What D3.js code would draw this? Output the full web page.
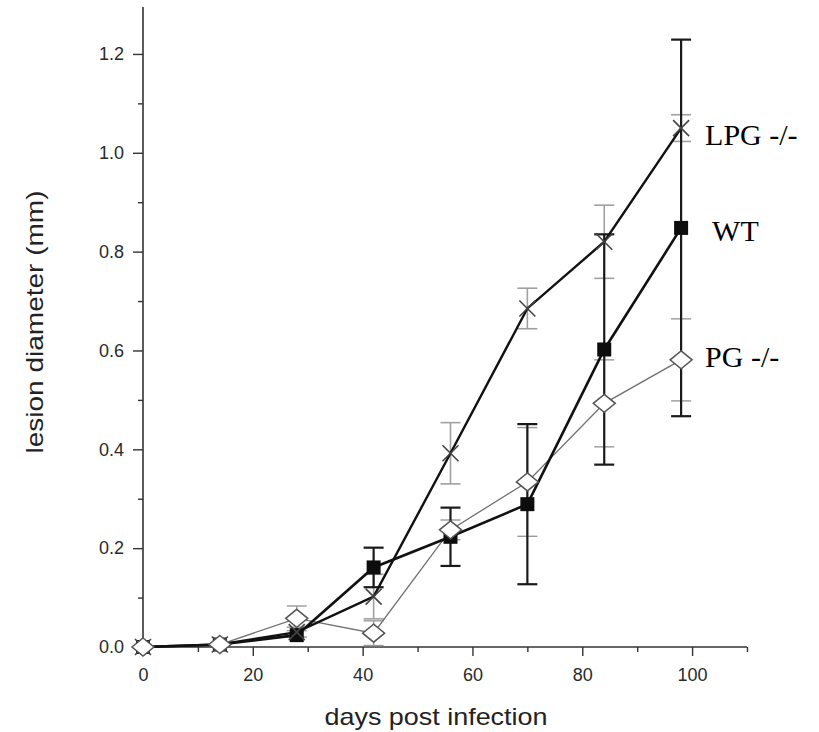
<!DOCTYPE html>
<html>
<head>
<meta charset="utf-8">
<script src="https://cdn.jsdelivr.net/npm/d3@7"></script>
<style>
  html, body { margin: 0; padding: 0; background: #fff; }
  svg { display: block; }
</style>
</head>
<body>
<svg id="chart" width="819" height="732"></svg>
<script>
// Days after infection at which lesions were measured
const days = [0, 14, 28, 42, 56, 70, 84, 98];

// Mean lesion diameter (mm) and error for each strain
const lpgMean = [0, 0.005, 0.03, 0.102, 0.392, 0.685, 0.82, 1.05];
const lpgErr  = [0, 0, 0.01, 0.045, 0.062, 0.041, 0.074, 0.027];

const wtMean = [0, 0.005, 0.024, 0.161, 0.223, 0.289, 0.602, 0.848];
const wtErr  = [0, 0, 0, 0.04, 0.059, 0.162, 0.233, 0.381];

const pgMean = [0, 0.005, 0.058, 0.028, 0.237, 0.334, 0.493, 0.581];
const pgErr  = [0, 0, 0.025, 0.025, 0.02, 0.11, 0.088, 0.083];

const seriesNames = ["LPG -/-", "WT", "PG -/-"];

const xTicks = [0, 20, 40, 60, 80, 100];
const xMinorTicks = [10, 30, 50, 70, 90, 110];
const yTicks = [0, 0.2, 0.4, 0.6, 0.8, 1.0, 1.2];
const yMinorTicks = [0.1, 0.3, 0.5, 0.7, 0.9, 1.1];

const svg = d3.select("#chart");

const x = d3.scaleLinear().domain([0, 110]).range([143, 747]);
const y = d3.scaleLinear().domain([0, 1.295]).range([647, 7]);

const axisColor = "#333";
const tickFont = "Arial, 'Liberation Sans', sans-serif";

// ---- Axes ----
const yAxis = svg.append("g").attr("transform", `translate(${x(0)},0)`)
  .call(d3.axisLeft(y).tickValues(yTicks).tickFormat(d3.format(".1f")).tickSize(10).tickPadding(9));
yAxis.select(".domain").attr("d", `M0,${y(0)}V${y(1.295)}`);
svg.append("g").attr("transform", `translate(${x(0)},0)`)
  .call(d3.axisLeft(y).tickValues(yMinorTicks).tickFormat("").tickSize(5))
  .select(".domain").remove();

const xAxis = svg.append("g").attr("transform", `translate(0,${y(0)})`)
  .call(d3.axisBottom(x).tickValues(xTicks).tickFormat(d3.format("d")).tickSize(9).tickPadding(12));
xAxis.select(".domain").attr("d", `M${x(0)},0H${x(110)}`);
svg.append("g").attr("transform", `translate(0,${y(0)})`)
  .call(d3.axisBottom(x).tickValues(xMinorTicks).tickFormat("").tickSize(5))
  .select(".domain").remove();

svg.selectAll(".domain").attr("stroke", axisColor).attr("stroke-width", 1.6);
svg.selectAll(".tick line").attr("stroke", axisColor).attr("stroke-width", 1.4);
svg.selectAll(".tick text")
  .attr("fill", "#2a2a2a")
  .style("font-family", tickFont)
  .style("font-size", "18px");

// Axis titles
svg.append("text")
  .attr("x", 436).attr("y", 725)
  .attr("text-anchor", "middle")
  .attr("textLength", 223).attr("lengthAdjust", "spacingAndGlyphs")
  .style("font-family", tickFont).style("font-size", "24px")
  .attr("fill", "#222")
  .text("days post infection");

svg.append("text")
  .attr("transform", "translate(43,322) rotate(-90)")
  .attr("text-anchor", "middle")
  .attr("textLength", 263).attr("lengthAdjust", "spacingAndGlyphs")
  .style("font-family", tickFont).style("font-size", "24px")
  .attr("fill", "#222")
  .text("lesion diameter (mm)");

// ---- Series ----
const toPoints = (means, errs) => days.map((d, i) => ({ day: d, v: means[i], e: errs[i] }));
const lpg = toPoints(lpgMean, lpgErr);
const wt = toPoints(wtMean, wtErr);
const pg = toPoints(pgMean, pgErr);

const line = d3.line().x(d => x(d.day)).y(d => y(d.v));

function errorBars(data, color, width, cap) {
  const g = svg.append("g").attr("stroke", color).attr("stroke-width", width).attr("fill", "none");
  data.filter(d => d.e > 0).forEach(d => {
    const cx = x(d.day), t = y(d.v + d.e), b = y(d.v - d.e);
    g.append("line").attr("x1", cx).attr("x2", cx).attr("y1", t).attr("y2", b);
    g.append("line").attr("x1", cx - cap).attr("x2", cx + cap).attr("y1", t).attr("y2", t);
    g.append("line").attr("x1", cx - cap).attr("x2", cx + cap).attr("y1", b).attr("y2", b);
  });
}

// error bars underneath
errorBars(pg, "#9a9a9a", 1.4, 10);
errorBars(lpg, "#a0a0a0", 1.6, 10);
errorBars(wt, "#1a1a1a", 2.2, 10);

// connecting lines
svg.append("path").datum(pg).attr("d", line)
  .attr("fill", "none").attr("stroke", "#707070").attr("stroke-width", 1.3);
svg.append("path").datum(wt).attr("d", line)
  .attr("fill", "none").attr("stroke", "#111").attr("stroke-width", 2.6);
svg.append("path").datum(lpg).attr("d", line)
  .attr("fill", "none").attr("stroke", "#111").attr("stroke-width", 2.4);

// WT: filled squares
svg.append("g").selectAll("rect").data(wt).join("rect")
  .attr("x", d => x(d.day) - 7).attr("y", d => y(d.v) - 7)
  .attr("width", 14).attr("height", 14)
  .attr("fill", "#0d0d0d");

// LPG -/-: crosses
svg.append("g").selectAll("path").data(lpg).join("path")
  .attr("d", d => {
    const cx = x(d.day), cy = y(d.v), r = 8;
    return `M${cx - r},${cy - r}L${cx + r},${cy + r}M${cx - r},${cy + r}L${cx + r},${cy - r}`;
  })
  .attr("stroke", "#444").attr("stroke-width", 1.6).attr("fill", "none");

// PG -/-: open diamonds
svg.append("g").selectAll("path").data(pg).join("path")
  .attr("d", d => {
    const cx = x(d.day), cy = y(d.v), w = 11, h = 9;
    return `M${cx},${cy - h}L${cx + w},${cy}L${cx},${cy + h}L${cx - w},${cy}Z`;
  })
  .attr("fill", "#fff").attr("stroke", "#555").attr("stroke-width", 1.5);

// ---- Series labels beside the last measurement ----
const last = days.length - 1;
const labelFont = "'Liberation Serif', 'Times New Roman', serif";
const labelSpecs = [
  { name: seriesNames[0], day: days[last], v: lpgMean[last], dx: 24, dy: 17 },
  { name: seriesNames[1], day: days[last], v: wtMean[last], dx: 31, dy: 13 },
  { name: seriesNames[2], day: days[last], v: pgMean[last], dx: 24, dy: 7 }
];
svg.append("g").selectAll("text").data(labelSpecs).join("text")
  .attr("x", d => x(d.day) + d.dx)
  .attr("y", d => y(d.v) + d.dy)
  .style("font-family", labelFont).style("font-size", "30px")
  .attr("fill", "#000")
  .text(d => d.name);
</script>
</body>
</html>
